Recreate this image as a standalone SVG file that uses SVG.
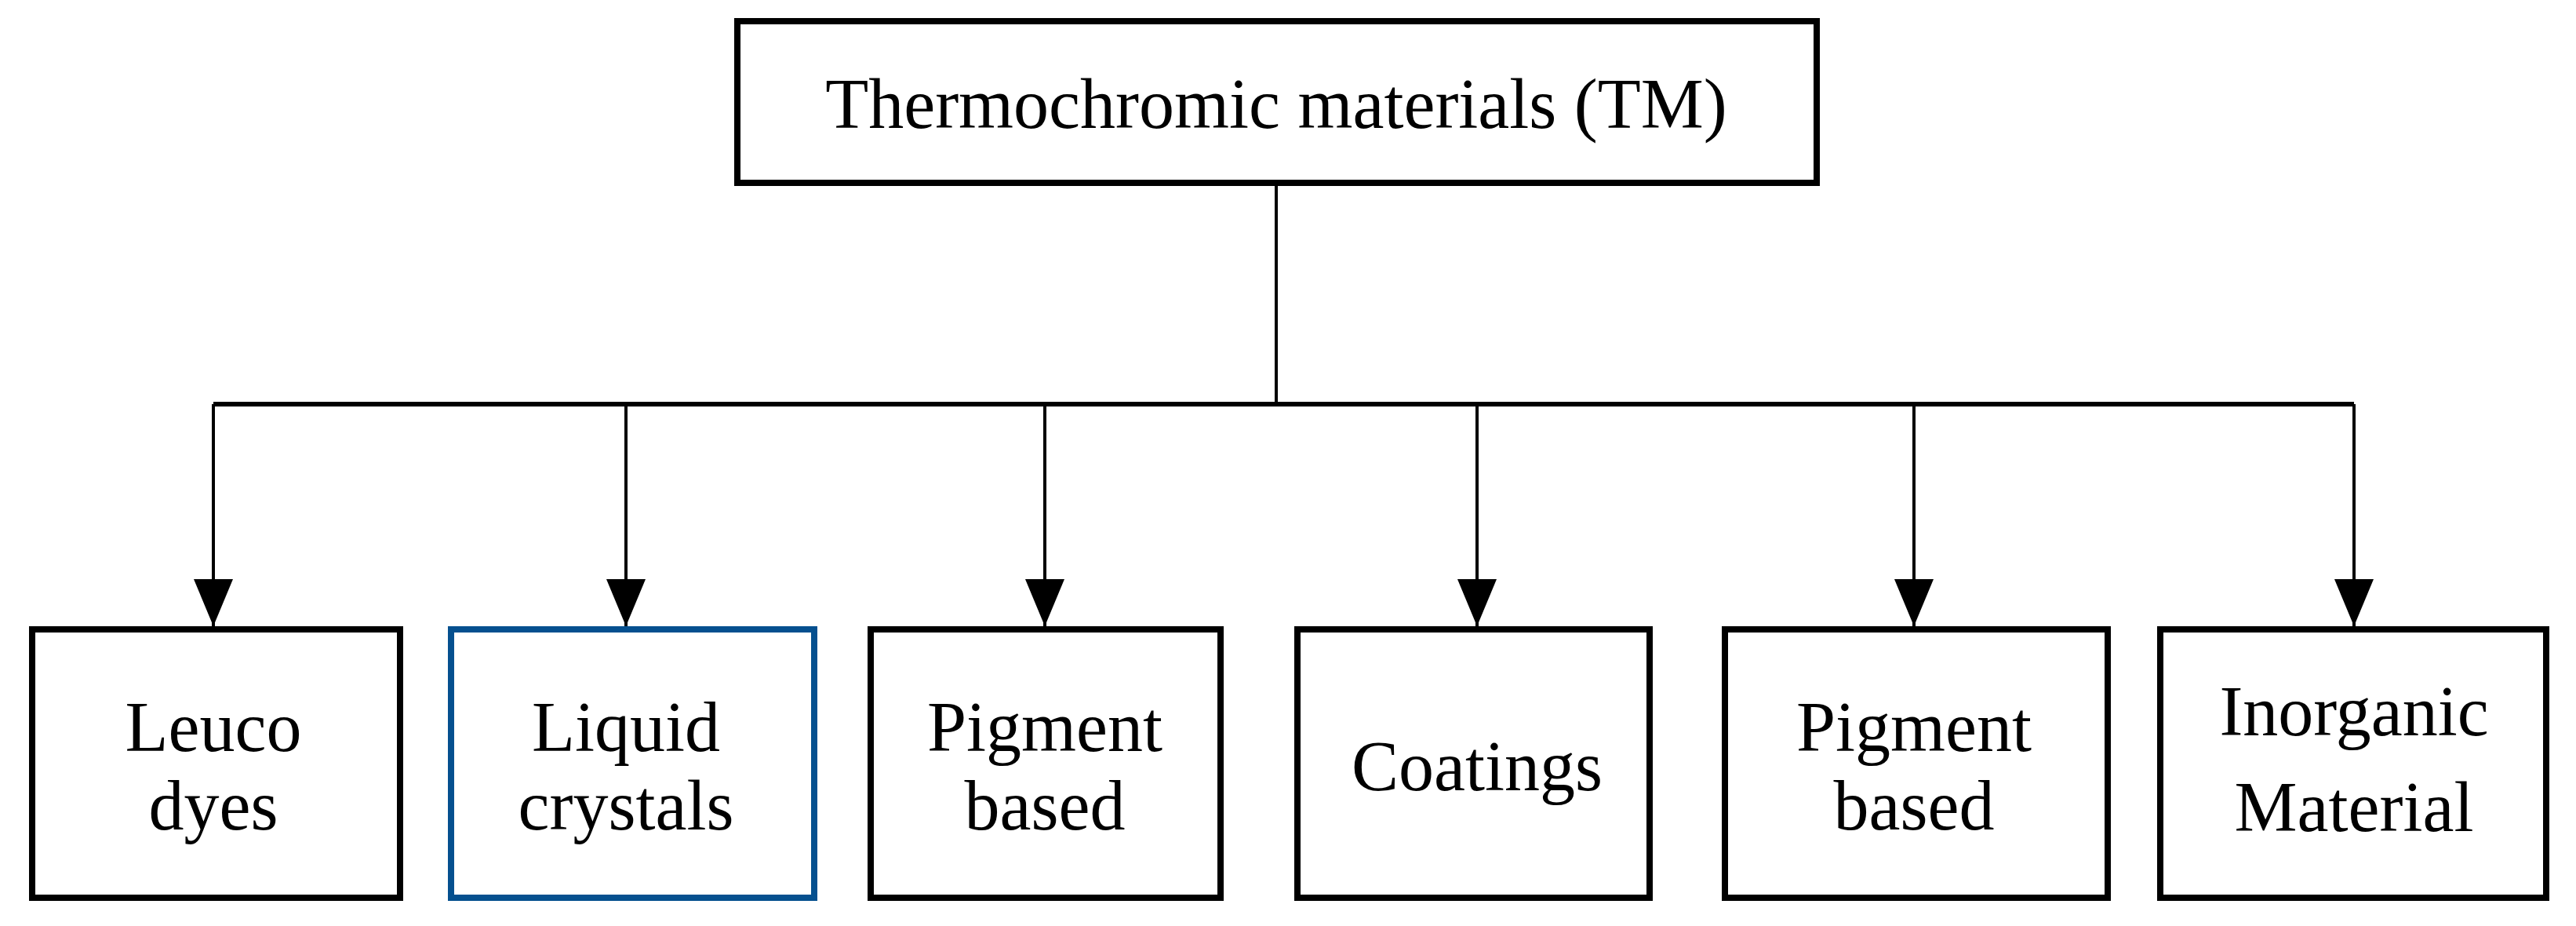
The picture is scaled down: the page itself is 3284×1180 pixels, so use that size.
<svg xmlns="http://www.w3.org/2000/svg" width="3284" height="1180" viewBox="0 0 3284 1180">
<style>
.b{fill:#fff;stroke:#000;stroke-width:8}
.bl{fill:#fff;stroke:#05508f;stroke-width:8}
text{font-family:"Liberation Serif",serif;font-size:90px;fill:#000;text-anchor:middle}
.c{stroke:#000;stroke-width:4;fill:none}
</style>
<defs><marker id="a" markerUnits="userSpaceOnUse" markerWidth="60" markerHeight="50" refX="60" refY="25" orient="auto" viewBox="0 0 60 50"><path d="M0 0L60 25L0 50Z" fill="#000"/></marker></defs>
<g id="connectors">
<path class="c" d="M1627 235V515"/>
<path class="c" style="stroke-width:6" d="M272 515H3001"/>
<path class="c" d="M272 515V798" marker-end="url(#a)"/>
<path class="c" d="M798 515V798" marker-end="url(#a)"/>
<path class="c" d="M1332 515V798" marker-end="url(#a)"/>
<path class="c" d="M1883 515V798" marker-end="url(#a)"/>
<path class="c" d="M2440 515V798" marker-end="url(#a)"/>
<path class="c" d="M3001 515V798" marker-end="url(#a)"/>
</g>
<g id="tm"><rect class="b" x="940" y="27" width="1376" height="206"/><text x="1627" y="163">Thermochromic materials (TM)</text></g>
<g id="leuco"><rect class="b" x="41" y="802" width="469" height="342"/><text x="272" y="957">Leuco</text><text x="272" y="1057">dyes</text></g>
<g id="liquid"><rect class="bl" x="575" y="802" width="463" height="342"/><text x="798" y="957">Liquid</text><text x="798" y="1057">crystals</text></g>
<g id="pigment1"><rect class="b" x="1110" y="802" width="446" height="342"/><text x="1332" y="957">Pigment</text><text x="1332" y="1057">based</text></g>
<g id="coatings"><rect class="b" x="1654" y="802" width="449" height="342"/><text x="1883" y="1007">Coatings</text></g>
<g id="pigment2"><rect class="b" x="2199" y="802" width="488" height="342"/><text x="2440" y="957">Pigment</text><text x="2440" y="1057">based</text></g>
<g id="inorganic"><rect class="b" x="2754" y="802" width="492" height="342"/><text x="3001" y="937">Inorganic</text><text x="3001" y="1059">Material</text></g>
</svg>
